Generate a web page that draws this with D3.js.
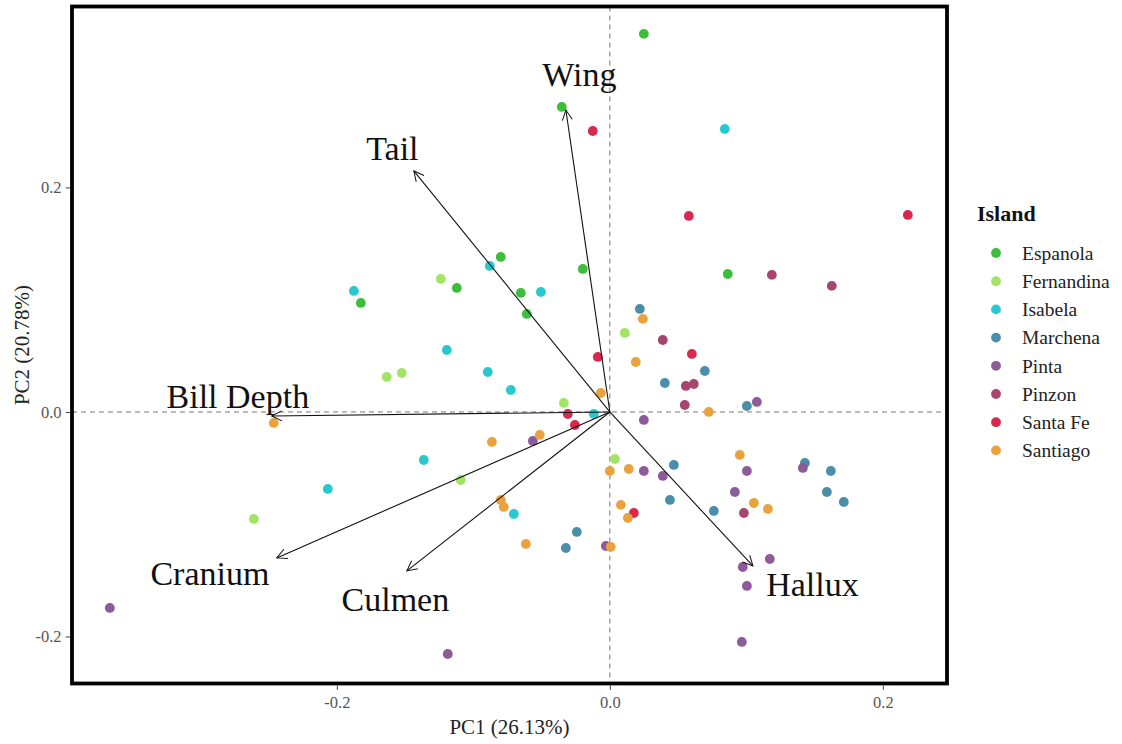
<!DOCTYPE html>
<html>
<head>
<meta charset="utf-8">
<script src="https://cdn.jsdelivr.net/npm/d3@7"></script>
<style>
  html, body { margin: 0; padding: 0; background: #fff; }
  svg { display: block; }
  text { font-family: "Liberation Serif", "Times New Roman", serif; }
</style>
</head>
<body>
<svg id="chart" width="1122" height="744"></svg>
<script>
// Islands and their colours
const islands = ["Espanola", "Fernandina", "Isabela", "Marchena", "Pinta", "Pinzon", "Santa Fe", "Santiago"];
const islandColors = ["#3cbe3c", "#a4e464", "#27c9cf", "#4b8eaa", "#8d5b99", "#a8456f", "#d8284f", "#eaa23f"];

// PCA scores per island: [PC1, PC2]
const espanola = [[0.0249,0.3368],[-0.0352,0.2717],[-0.0799,0.1381],[-0.0198,0.1274],[-0.1121,0.1105],[-0.0652,0.1060],[-0.0608,0.0873],[-0.1824,0.0971],[0.0864,0.1229]];
const fernandina = [[-0.1238,0.1185],[-0.1634,0.0312],[-0.1524,0.0347],[0.0110,0.0704],[-0.0337,0.0080],[0.0037,-0.0419],[-0.1092,-0.0606],[-0.2608,-0.0953]];
const isabela = [[0.0842,0.2521],[-0.1875,0.1078],[-0.0879,0.1301],[-0.0505,0.1069],[-0.1194,0.0552],[-0.0894,0.0356],[-0.0725,0.0196],[-0.0117,-0.0018],[-0.1363,-0.0428],[-0.2066,-0.0686],[-0.0703,-0.0909]];
const marchena = [[0.0220,0.0918],[0.0403,0.0258],[0.0696,0.0365],[0.1004,0.0053],[0.0469,-0.0472],[0.0440,-0.0784],[0.0762,-0.0882],[0.1429,-0.0454],[0.1619,-0.0526],[0.1590,-0.0713],[0.1714,-0.0802],[-0.0242,-0.1069],[-0.0322,-0.1212]];
const pinta = [[-0.3663,-0.1746],[-0.1187,-0.2156],[-0.0564,-0.0258],[0.0249,-0.0071],[0.0249,-0.0526],[0.0388,-0.0570],[-0.0029,-0.1194],[0.1077,0.0089],[0.1004,-0.0526],[0.0916,-0.0713],[0.1414,-0.0499],[0.1172,-0.1310],[0.0974,-0.1381],[0.1004,-0.1550],[0.0967,-0.2049]];
const pinzon = [[0.1187,0.1221],[0.1626,0.1123],[0.0388,0.0641],[0.0557,0.0232],[0.0615,0.0249],[0.0549,0.0062],[0.0982,-0.0900]];
const santaFe = [[-0.0125,0.2503],[0.0579,0.1746],[0.2183,0.1755],[0.0601,0.0517],[-0.0088,0.0490],[-0.0308,-0.0018],[-0.0256,-0.0116],[0.0176,-0.0900]];
const santiago = [[0.0242,0.0829],[0.0190,0.0445],[-0.0066,0.0169],[0.0725,0.0000],[-0.2462,-0.0098],[-0.0864,-0.0267],[-0.0513,-0.0205],[-0.0799,-0.0784],[-0.0777,-0.0846],[-0.0615,-0.1176],[0.0007,-0.1203],[0.0000,-0.0526],[0.0139,-0.0508],[0.0081,-0.0828],[0.0132,-0.0944],[0.0952,-0.0383],[0.1055,-0.0811],[0.1158,-0.0864]];
const scoresByIsland = [espanola, fernandina, isabela, marchena, pinta, pinzon, santaFe, santiago];

// Variable loadings (arrow tips) and their label anchors, in PC units
const variables = ["Wing", "Tail", "Bill Depth", "Cranium", "Culmen", "Hallux"];
const loadings = [[-0.0322,0.2690],[-0.1436,0.2147],[-0.2476,-0.0036],[-0.2440,-0.1300],[-0.1487,-0.1416],[0.1048,-0.1372]];
const labelAnchors = [[-0.0223,0.3011],[-0.1593,0.2347],[-0.2725,0.0143],[-0.2930,-0.1434],[-0.1571,-0.1666],[0.1484,-0.1532]];

// Axis ticks and titles
const xTicks = [-0.2, 0.0, 0.2];
const yTicks = [-0.2, 0.0, 0.2];
const xTitle = "PC1 (26.13%)";
const yTitle = "PC2 (20.78%)";
const legendTitle = "Island";

const svg = d3.select("#chart");
const panel = { left: 72, right: 947, top: 6.5, bottom: 683.5 };

const x = d3.scaleLinear().domain([-0.394, 0.247]).range([panel.left, panel.right]);
const y = d3.scaleLinear().domain([-0.2419, 0.3612]).range([panel.bottom, panel.top]);
const color = d3.scaleOrdinal().domain(islands).range(islandColors);

// arrowhead marker (open V)
svg.append("defs").append("marker")
  .attr("id", "head")
  .attr("viewBox", "0 0 12 12")
  .attr("refX", 11).attr("refY", 6)
  .attr("markerWidth", 12).attr("markerHeight", 12)
  .attr("markerUnits", "userSpaceOnUse")
  .attr("orient", "auto")
  .append("path")
  .attr("d", "M1,1 L11,6 L1,11")
  .attr("fill", "none")
  .attr("stroke", "#111")
  .attr("stroke-width", 1);

const plot = svg.append("g");

// reference lines through the origin
plot.append("line")
  .attr("x1", panel.left).attr("x2", panel.right)
  .attr("y1", y(0)).attr("y2", y(0))
  .attr("stroke", "#777").attr("stroke-width", 1).attr("stroke-dasharray", "5,4");
plot.append("line")
  .attr("x1", x(0)).attr("x2", x(0))
  .attr("y1", panel.top).attr("y2", panel.bottom)
  .attr("stroke", "#777").attr("stroke-width", 1).attr("stroke-dasharray", "5,4");

// points
const points = [];
scoresByIsland.forEach((arr, i) => arr.forEach(d => points.push({ island: islands[i], pc1: d[0], pc2: d[1] })));
plot.append("g").selectAll("circle")
  .data(points)
  .join("circle")
  .attr("cx", d => x(d.pc1))
  .attr("cy", d => y(d.pc2))
  .attr("r", 4.9)
  .attr("fill", d => color(d.island));

// loading arrows
const vars = variables.map((v, i) => ({ name: v, tip: loadings[i], lab: labelAnchors[i] }));
plot.append("g").selectAll("line")
  .data(vars)
  .join("line")
  .attr("x1", x(0)).attr("y1", y(0))
  .attr("x2", d => x(d.tip[0])).attr("y2", d => y(d.tip[1]))
  .attr("stroke", "#111").attr("stroke-width", 1.1)
  .attr("marker-end", "url(#head)");

plot.append("g").selectAll("text")
  .data(vars)
  .join("text")
  .attr("x", d => x(d.lab[0]))
  .attr("y", d => y(d.lab[1]))
  .attr("dy", "0.35em")
  .attr("text-anchor", "middle")
  .attr("font-size", 34)
  .attr("fill", "#111")
  .text(d => d.name);

// panel border
svg.append("rect")
  .attr("x", panel.left).attr("y", panel.top)
  .attr("width", panel.right - panel.left)
  .attr("height", panel.bottom - panel.top)
  .attr("fill", "none").attr("stroke", "#000").attr("stroke-width", 3.8);

// axes (plain hyphen for negative values)
const fmt = v => d3.format(".1f")(v).replace("\u2212", "-");
const xAxis = svg.append("g")
  .attr("transform", `translate(0,${panel.bottom + 1.9})`)
  .call(d3.axisBottom(x).tickValues(xTicks).tickFormat(fmt).tickSize(4.5).tickPadding(6));
const yAxis = svg.append("g")
  .attr("transform", `translate(${panel.left - 1.9},0)`)
  .call(d3.axisLeft(y).tickValues(yTicks).tickFormat(fmt).tickSize(4.5).tickPadding(4));
[xAxis, yAxis].forEach(g => {
  g.attr("font-family", null);
  g.select(".domain").remove();
  g.selectAll(".tick line").attr("stroke", "#444");
  g.selectAll(".tick text")
    .attr("font-family", "'Liberation Serif', serif")
    .attr("font-size", 16.5)
    .attr("fill", "#555");
});

svg.append("text")
  .attr("x", (panel.left + panel.right) / 2)
  .attr("y", 734)
  .attr("text-anchor", "middle")
  .attr("font-size", 21)
  .attr("fill", "#222")
  .text(xTitle);

svg.append("text")
  .attr("transform", `translate(29,${(panel.top + panel.bottom) / 2}) rotate(-90)`)
  .attr("text-anchor", "middle")
  .attr("font-size", 21)
  .attr("fill", "#222")
  .text(yTitle);

// legend
const legend = svg.append("g");
legend.append("text")
  .attr("x", 977).attr("y", 221)
  .attr("font-size", 22)
  .attr("font-weight", "bold")
  .attr("fill", "#111")
  .text(legendTitle);
const items = legend.selectAll("g.item")
  .data(islands)
  .join("g")
  .attr("class", "item")
  .attr("transform", (d, i) => `translate(996,${253 + i * 28.2})`);
items.append("circle").attr("r", 4.9).attr("fill", d => color(d));
items.append("text")
  .attr("x", 26).attr("dy", "0.35em")
  .attr("font-size", 19.5)
  .attr("fill", "#222")
  .text(d => d);
</script>
</body>
</html>
